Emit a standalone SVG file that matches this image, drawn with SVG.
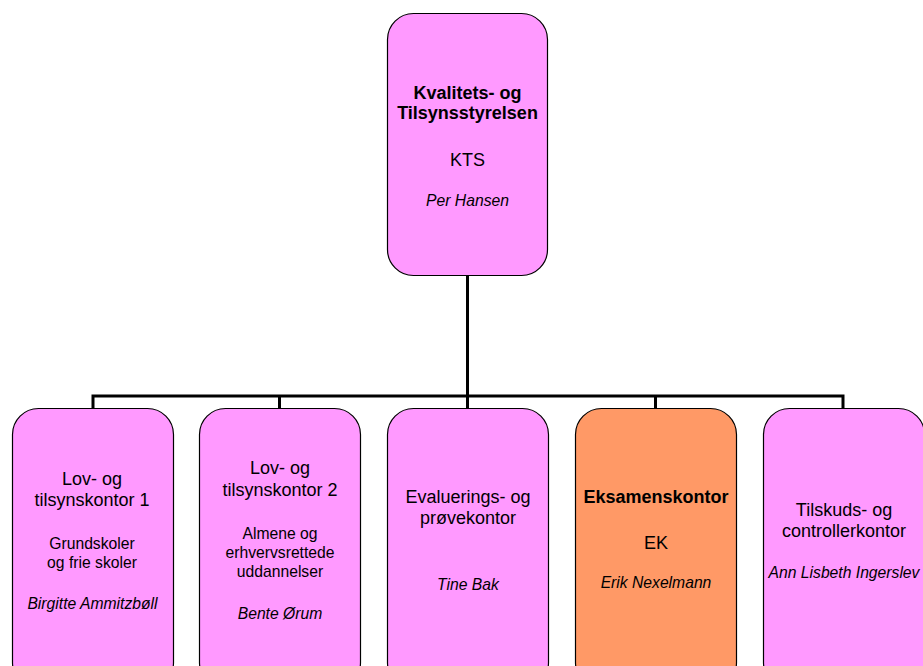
<svg xmlns="http://www.w3.org/2000/svg" width="923" height="666" viewBox="0 0 923 666">
<style>
.box{fill:#FF99FF;stroke:#000;stroke-width:1.2}
.ek{fill:#FF9966;stroke:#000;stroke-width:1.2}
.t{font-family:"Liberation Sans",Arial,sans-serif;font-size:18px;fill:#000;text-anchor:middle}
.s{font-family:"Liberation Sans",Arial,sans-serif;font-size:15.7px;fill:#000;text-anchor:middle}
.i{font-family:"Liberation Sans",Arial,sans-serif;font-size:15.7px;font-style:italic;fill:#000;text-anchor:middle}
.b{font-weight:bold}
.c{fill:none;stroke:#000;stroke-width:3}
</style>
<rect width="923" height="666" fill="#fff"/>
<g id="connectors">
<path class="c" d="M467.5 276V396M93 408V396H843V408M279.5 396V408M467.5 396V408M655.5 396V408"/>
</g>
<g id="kts">
<rect class="box" x="387.5" y="13.5" width="160" height="262" rx="26"/>
<text class="t b" x="467.5" y="99">Kvalitets- og</text>
<text class="t b" x="467.5" y="119">Tilsynsstyrelsen</text>
<text class="t" x="467.5" y="166">KTS</text>
<text class="i" x="467.5" y="206">Per Hansen</text>
</g>
<g id="lov1">
<rect class="box" x="12.5" y="408.5" width="161" height="280" rx="26"/>
<text class="t" x="92" y="485">Lov- og</text>
<text class="t" x="92" y="506">tilsynskontor 1</text>
<text class="s" x="92" y="549">Grundskoler</text>
<text class="s" x="92" y="568">og frie skoler</text>
<text class="i" x="92.5" y="609">Birgitte Ammitzbøll</text>
</g>
<g id="lov2">
<rect class="box" x="199.5" y="408.5" width="161" height="280" rx="26"/>
<text class="t" x="280" y="474">Lov- og</text>
<text class="t" x="280" y="496">tilsynskontor 2</text>
<text class="s" x="280" y="539">Almene og</text>
<text class="s" x="280" y="558">erhvervsrettede</text>
<text class="s" x="280" y="577">uddannelser</text>
<text class="i" x="280" y="619">Bente Ørum</text>
</g>
<g id="eval">
<rect class="box" x="387.5" y="408.5" width="161" height="280" rx="26"/>
<text class="t" x="468" y="503">Evaluerings- og</text>
<text class="t" x="468" y="524">prøvekontor</text>
<text class="i" x="468" y="590">Tine Bak</text>
</g>
<g id="ek">
<rect class="ek" x="575.5" y="408.5" width="161" height="280" rx="26"/>
<text class="t b" x="656" y="503">Eksamenskontor</text>
<text class="t" x="656" y="549">EK</text>
<text class="i" x="656" y="588">Erik Nexelmann</text>
</g>
<g id="tilskud">
<rect class="box" x="763.5" y="408.5" width="161" height="280" rx="26"/>
<text class="t" x="844" y="516">Tilskuds- og</text>
<text class="t" x="844" y="537">controllerkontor</text>
<text class="i" x="844" y="578">Ann Lisbeth Ingerslev</text>
</g>
</svg>
